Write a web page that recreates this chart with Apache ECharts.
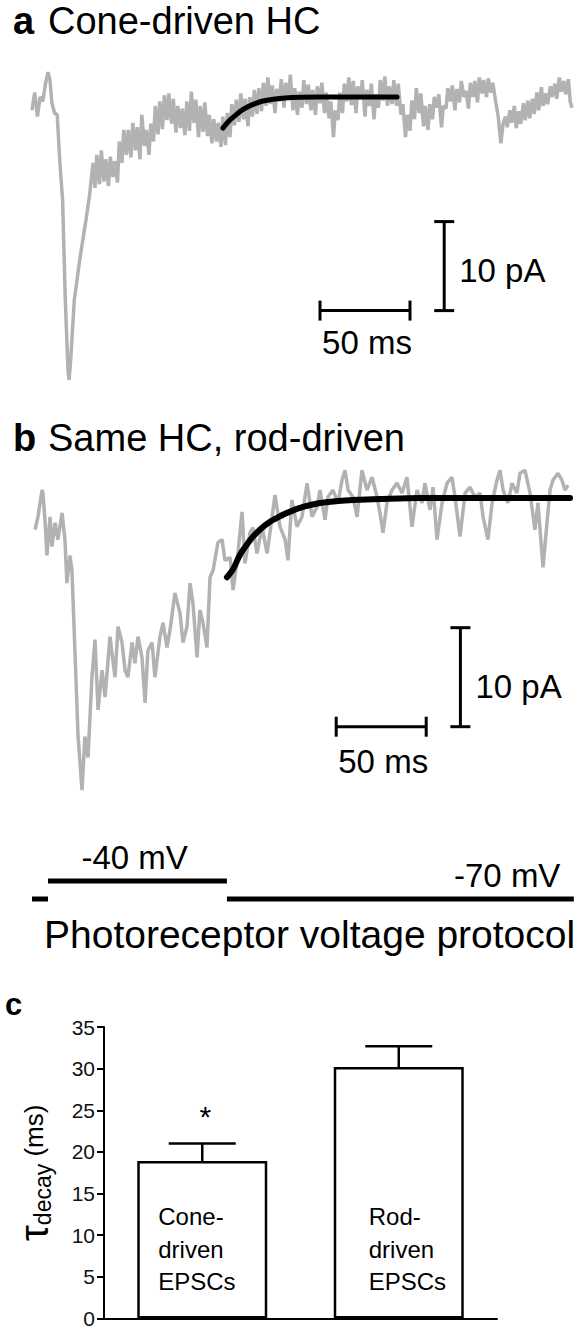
<!DOCTYPE html>
<html><head><meta charset="utf-8">
<script src="https://cdn.jsdelivr.net/npm/echarts@6/dist/echarts.min.js"></script>
<style>html,body{margin:0;padding:0;background:#fff}#chart{width:583px;height:1330px}</style>
</head><body><div id="chart"></div>
<script>
// ===== DATA (time in ms, current in pA, voltage in mV) =====
const traceA = [[0,-1.5],[1.5,0.5],[3,-2.2],[4.5,0],[6,-0.5],[7.5,1.5],[8.9,2.8],[10,1.9],[11,-0.6],[12.5,-1.8],[14,-2.0],
[15.5,-7.4],[17,-11.6],[18.5,-22.8],[20,-30.7],[20.6,-31.8],[21.5,-29.5],[23.5,-22.8],[26.5,-18.3],[30,-13.8],[32,-11],[33.9,-7.4],
[35,-10.2],[36,-6.5],[37.5,-9.8],[38.5,-6.0],[40,-9.5],[41,-7.0],[42.5,-10.0],[43.5,-6.7],[45,-9.0],[46,-7.2],[47.5,-9.6],[48.5,-5.0],
[50,-7.4],[51,-3.7],[52.5,-6.5],[53.5,-3.7],[55,-6.8],[56,-2.9],[57.5,-6.0],[58.5,-3.4],[60,-7.0],[61,-2.0],[62.5,-5.5],[63.5,-3.7],[65,-6.5],[66,-3.0],
[67.5,-5.0],[68.5,-1.0],[70,-4.2],[71,-0.5],[72.5,-3.6],[73.5,0.2],[75,-2.6],[76,0.4],[77.5,-3.0],[78.5,-0.2],[80,-4.0],[81,-1.0],[82.5,-3.5],[83.5,-1.3],[85,-4.3],[86,-0.5],
[87.5,-3.8],[88.5,0.6],[90,-2.9],[91,-0.3],[92.5,-4.5],[93.5,-1.0],[95,-3.9],[96,-0.6],[97.5,-4.4],[98.5,-2.0],[100,-5.2],[101,-2.5],[102.5,-5.0],[103.5,-2.9],
[105,-5.6],[106,-2.2],[107.5,-5.4],[108.5,-1.8],[110,-4.5],
[111,-0.8],[112.5,-3.2],[113.5,-0.3],[115,-2.8],[116,0.4],[117.5,-2.5],[118.5,-0.2],[120,-3.3],[121,0.0],[122.5,-2.2],[123.5,0.8],[125,-1.9],[126,1.0],
[127.5,-1.6],[128.5,1.6],[130,-1.0],[131,2.2],[132.5,-0.8],[133.5,1.3],[135,-1.8],[136,0.9],[137.5,-0.5],[138.5,2.0],[140,-1.2],[141,1.6],[142.5,-0.3],[143.5,2.5],[145,-1.5],[146,1.0],[147.5,-2.0],[148.5,0.6],
[150,-1.2],[151,1.9],[152.5,-0.8],[153.5,1.4],[155,-1.5],[156,0.8],[157.5,-2.0],[158.5,1.2],[160,-0.7],[161,1.6],[162.5,-1.8],[163.5,0.5],[165,-2.4],[166,-0.5],[167.5,-4.5],[168.5,-1.5],
[170,-2.6],[171,0.5],[172.5,-1.8],[173.5,1.5],[175,-0.5],[176,2.2],[177.5,-0.9],[178.5,1.8],[180,-1.8],[181,1.2],[182.5,-0.2],[183.5,1.9],[185,-2.2],[186,0.8],[187.5,-1.0],[188.5,1.5],[190,-2.5],[191,0.3],[192.5,-1.2],[193.5,1.9],[195,-0.4],[196,2.3],[197.5,-1.0],[198.5,1.2],[200,-0.8],[201,1.9],[202.5,-1.0],[203.5,1.5],
[205,-2.0],[206,-0.8],[207.5,-4.5],[208.5,-2.0],[210,-3.8],[211,-0.4],[212.5,-2.5],
[213.5,1.0],[215,-1.8],[216,0.4],[217.5,-3.3],[218.5,-1.0],[220,-3.7],[221,-0.8],[222.5,-2.5],[223.5,0.0],[225,-1.2],[226,0.3],[227.5,-3.4],[228.5,-1.0],
[230,-1.3],[231,1.0],[232.5,-0.5],[233.5,1.3],[235,-1.5],[236,0.9],[237.5,-0.6],[238.5,1.8],[240,0.0],[241,0.7],[242.5,-1.3],[243.5,1.6],[245,0.0],[246,1.8],[247.5,-0.6],[248.5,2.2],[250,0.4],[251,1.9],[252.5,0.0],[253.5,2.1],[255,0.5],[256,1.6],[257.5,-0.4],
[259,-2.2],[260.5,-5.2],[261.7,-3.0],
[263,-2.2],[264,-3.4],[265.5,-1.5],[266.5,-2.9],[268,-1.0],[269,-3.5],[270.5,-1.6],[271.5,-3.0],[273,-0.7],[274,-2.6],[275.5,-0.4],[276.5,-2.4],[278,-0.2],[279,-1.9],[280.5,0.5],[281.5,-1.5],
[283,1.1],[284,-1.0],[285.5,0.4],[286.5,-0.8],[288,1.2],[289,0.0],[290.5,1.5],[291.5,-0.2],[293,2.2],[294,0.6],[295.5,1.8],[296.5,0.3],[298,2.0],[299,-0.5],[300,-1.2]];

const fitA = [[106.1,-3.5],[109.4,-2.7],[112.8,-2.1],[116.1,-1.55],[119.4,-1.15],[123.9,-0.75],[128.3,-0.45],[133.9,-0.25],[140.6,-0.1],[148.9,-0.04],[170,0],[202.8,0]];

const traceB = [[1.7,-3.2],[3.3,-1.9],[5.6,0.8],[6.1,0.5],[7.2,-2.2],[8.3,-5.8],[10,-1.9],[11.1,-4.9],[12.8,-2.5],[14.4,-4.2],[16.7,-1.5],[18.3,-4.2],[19.4,-8.6],[21.1,-5.8],[22.2,-7.3],
[23.9,-15.7],[25.6,-24.1],[27.8,-29.5],[29.4,-24.1],[31.1,-26.2],[33.3,-18.1],[35,-14.3],[36.7,-21.4],[38.9,-17.4],[40.6,-20.1],[43.3,-14.0],[46.1,-18.1],[47.8,-13.0],[50,-14.6],[51.7,-17.4],[53.3,-18.1],
[55.6,-14.6],[57.2,-16.7],[58.9,-14.0],[61.1,-16.1],[62.8,-20.7],[64.4,-15.4],[66.7,-14.6],[68.3,-18.1],[71.1,-14.0],[72.8,-12.6],[75,-15.1],[76.7,-13.3],[79.4,-9.6],[82.2,-11.6],[83.9,-14.6],[86.1,-13.0],
[87.8,-8.6],[89.4,-10.6],[91.7,-16.1],[93.3,-11.3],[95,-12.6],[97.2,-15.1],[98.9,-8.0],[100.6,-7.3],[103.3,-4.5],[105.6,-4.2],[107.2,-6.3],[110,-6.0],[111.7,-9.3],[114.4,-5.6],[116.7,-1.4],[118.3,-6.6],
[121.1,-3.5],[122.8,-3.0],[125,-5.6],[127.8,-2.9],[130.6,-5.6],[132.2,-3.5],[135,0.3],[137.8,-2.9],[140.6,-4.2],[142.2,-6.3],[144.4,-0.2],[147.2,-2.9],[150,-1.9],[152.8,1.5],[155.6,-1.9],[158.3,-0.9],
[160,0.8],[162.8,-2.2],[164.4,0.1],[167.2,0.8],[170,-0.5],[172.2,1.8],[173.9,2.8],[175.6,0.8],[178.3,0.1],[180.6,-1.9],[183.3,2.8],[186.1,0.8],[188.9,2.1],[191.7,0.1],[193.3,-1.5],[195,-3.5],
[197.2,-0.5],[200,0.8],[202.8,1.5],[205.6,0.5],[208.3,2.1],[211.1,-2.9],[213.9,0.8],[216.7,-0.5],[218.3,1.5],[221.1,-1.2],[222.8,1.1],[225,-4.2],[227.8,-0.5],[230.6,1.5],[233.3,2.1],[235,0.1],
[237.8,-3.9],[240.6,0.5],[243.3,1.1],[246.1,0.1],[248.9,0.5],[250.6,-1.9],[253.3,-4.2],[255.6,-0.5],[258.3,1.8],[260,2.8],[261.7,0.8],[264.4,-0.5],[266.7,1.5],[269.4,0.5],[271.1,2.5],[273.9,2.8],
[276.7,0.5],[279.4,-3.2],[281.1,-0.5],[283.9,-7.0],[286.1,-2.5],[287.8,0.8],[289.4,1.8],[292.2,2.5],[294.4,1.8],[296.1,0.8],[297.8,1.3]];

const fitB = [[108.3,-8.0],[111.7,-7.2],[115.6,-5.7],[119.4,-4.7],[122.8,-3.9],[127.2,-3.1],[132.2,-2.4],[137.2,-1.9],[141.7,-1.5],[150.6,-0.9],[160,-0.5],[170,-0.3],[178.3,-0.2],[193.3,-0.1],[215.6,0],[298.9,0]];

const scaleBarA = { time: [160, 210], current: [-24, -14], at: 229, labels: ['50 ms', '10 pA'] };
const scaleBarB = { time: [169, 219], current: [-23.1, -13.1], at: 238, labels: ['50 ms', '10 pA'] };

const protocolSteps = [[0, 8.9, -70], [8.9, 108.3, -40], [108.3, 301, -70]];
const protocolLabels = [[57, -40, '-40 mV'], [264, -70, '-70 mV']];

const categories = ['Cone-\ndriven\nEPSCs', 'Rod-\ndriven\nEPSCs'];
const tauMean = [18.9, 30.2];
const tauSEM = [2.1, 2.5];
const significance = ['*', ''];
const tauTicks = [0, 5, 10, 15, 20, 25, 30, 35];

// ===== CHART =====
const FONT = "'Liberation Sans', Arial, Helvetica, sans-serif";
const INK = '#000';
const GRAY = '#b2b2b2';
const chart = echarts.init(document.getElementById('chart'), null, { renderer: 'svg' });

function scaleBarRender(sb, vLabelDy, hLabelDy) {
  return function (params, api) {
    const h0 = api.coord([sb.time[0], sb.current[0]]);
    const h1 = api.coord([sb.time[1], sb.current[0]]);
    const v0 = api.coord([sb.at, sb.current[0]]);
    const v1 = api.coord([sb.at, sb.current[1]]);
    const ls = { stroke: INK, lineWidth: 3 };
    const c = 10;
    const L = (x1, y1, x2, y2) => ({ type: 'line', shape: { x1, y1, x2, y2 }, style: ls });
    return {
      type: 'group', children: [
        L(h0[0], h0[1], h1[0], h1[1]),
        L(h0[0], h0[1] - c, h0[0], h0[1] + c),
        L(h1[0], h1[1] - c, h1[0], h1[1] + c),
        L(v0[0], v0[1], v1[0], v1[1]),
        L(v0[0] - c, v0[1], v0[0] + c, v0[1]),
        L(v1[0] - c, v1[1], v1[0] + c, v1[1]),
        { type: 'text', x: (h0[0] + h1[0]) / 2 + 2, y: h0[1] + hLabelDy,
          style: { text: sb.labels[0], font: '33px ' + FONT, fill: INK, align: 'center', verticalAlign: 'middle' } },
        { type: 'text', x: v0[0] + 15, y: (v0[1] + v1[1]) / 2 + vLabelDy,
          style: { text: sb.labels[1], font: '33px ' + FONT, fill: INK, align: 'left', verticalAlign: 'middle' } }
      ]
    };
  };
}

const hiddenX = (g) => ({ gridIndex: g, type: 'value', min: 0, max: 300, show: false });
const hiddenY = (g, mn, mx) => ({ gridIndex: g, type: 'value', min: mn, max: mx, show: false });

const option = {
  animation: false,
  backgroundColor: '#fff',
  textStyle: { fontFamily: FONT },
  grid: [
    { left: 32, width: 540, top: 61.4, height: 329.3, outerBoundsMode: 'none' },
    { left: 32, width: 540, top: 458.4, height: 346.5, outerBoundsMode: 'none' },
    { left: 32, width: 540, top: 875, height: 30, outerBoundsMode: 'none' },
    { left: 104, width: 393, top: 1027, height: 291.5, outerBoundsMode: 'none' }
  ],
  xAxis: [
    hiddenX(0), hiddenX(1), hiddenX(2),
    { gridIndex: 3, type: 'category', data: categories,
      axisLine: { show: true, lineStyle: { color: INK, width: 2 } },
      axisTick: { show: false }, axisLabel: { show: false }, splitLine: { show: false } }
  ],
  yAxis: [
    hiddenY(0, -33, 4), hiddenY(1, -31, 4), hiddenY(2, -80, -30),
    { gridIndex: 3, type: 'value', min: 0, max: 35, interval: 5,
      axisLine: { show: true, lineStyle: { color: INK, width: 2 } },
      axisTick: { show: true, length: 7, lineStyle: { color: INK, width: 2 } },
      axisLabel: { fontSize: 21, color: '#111', margin: 9, fontFamily: FONT,
        formatter: (v) => tauTicks.includes(v) ? String(v) : '' },
      splitLine: { show: false },
      name: '{t|τ}{s|decay}{m| (ms)}', nameLocation: 'middle', nameRotate: 90, nameGap: 50,
      nameTextStyle: { color: INK, rich: {
        t: { fontSize: 40, fontFamily: FONT, color: INK },
        s: { fontSize: 23, fontFamily: FONT, color: INK, verticalAlign: 'bottom', lineHeight: 34 },
        m: { fontSize: 26, fontFamily: FONT, color: INK }
      } } }
  ],
  series: [
    { type: 'line', xAxisIndex: 0, yAxisIndex: 0, data: traceA, showSymbol: false, silent: true,
      lineStyle: { color: GRAY, width: 3.5 }, clip: false, z: 1 },
    { type: 'line', xAxisIndex: 0, yAxisIndex: 0, data: fitA, showSymbol: false, silent: true, smooth: 0.3,
      lineStyle: { color: '#000', width: 5, cap: 'round' }, clip: false, z: 2 },
    { type: 'custom', xAxisIndex: 0, yAxisIndex: 0, data: [[scaleBarA.at, scaleBarA.current[0]]],
      renderItem: scaleBarRender(scaleBarA, 4, 32), silent: true, clip: false },

    { type: 'line', xAxisIndex: 1, yAxisIndex: 1, data: traceB, showSymbol: false, silent: true,
      lineStyle: { color: GRAY, width: 3.5 }, clip: false, z: 1 },
    { type: 'line', xAxisIndex: 1, yAxisIndex: 1, data: fitB, showSymbol: false, silent: true, smooth: 0.3,
      lineStyle: { color: '#000', width: 6, cap: 'round' }, clip: false, z: 2 },
    { type: 'custom', xAxisIndex: 1, yAxisIndex: 1, data: [[scaleBarB.at, scaleBarB.current[0]]],
      renderItem: scaleBarRender(scaleBarB, 9, 35), silent: true, clip: false },

    { type: 'custom', xAxisIndex: 2, yAxisIndex: 2, data: protocolSteps, silent: true, clip: false,
      renderItem: (params, api) => {
        const s = api.coord([api.value(0), api.value(2)]);
        const e = api.coord([api.value(1), api.value(2)]);
        return { type: 'line', shape: { x1: s[0], y1: s[1], x2: e[0], y2: e[1] },
          style: { stroke: INK, lineWidth: 5 } };
      } },
    { type: 'scatter', xAxisIndex: 2, yAxisIndex: 2, symbolSize: 0, silent: true, clip: false,
      itemStyle: { opacity: 1 },
      data: protocolLabels.map(d => ({ value: [d[0], d[1]], name: d[2] })),
      label: { show: true, position: 'inside', offset: [0, -24], formatter: (p) => p.name,
        fontSize: 33, color: INK, opacity: 1, fontFamily: FONT } },

    { type: 'bar', xAxisIndex: 3, yAxisIndex: 3, data: tauMean, barWidth: 130, silent: true,
      itemStyle: { color: '#fff', borderColor: INK, borderWidth: 2.5 } },
    { type: 'custom', xAxisIndex: 3, yAxisIndex: 3, silent: true, z: 5,
      data: tauMean.map((m, i) => [i, m, tauSEM[i]]),
      renderItem: (params, api) => {
        const i = api.value(0);
        const b = api.coord([i, api.value(1)]);
        const t = api.coord([i, api.value(1) + api.value(2)]);
        const half = 33.5;
        const st = { stroke: INK, lineWidth: 2.5 };
        const ch = [
          { type: 'line', shape: { x1: b[0], y1: b[1], x2: t[0], y2: t[1] }, style: st },
          { type: 'line', shape: { x1: t[0] - half, y1: t[1], x2: t[0] + half, y2: t[1] }, style: st }
        ];
        if (significance[params.dataIndex]) {
          ch.push({ type: 'text', x: t[0] + 3, y: t[1] - 27,
            style: { text: significance[params.dataIndex], font: '30px ' + FONT, fill: INK, align: 'center', verticalAlign: 'middle' } });
        }
        return { type: 'group', children: ch };
      } },
    { type: 'scatter', xAxisIndex: 3, yAxisIndex: 3, symbolSize: 0, silent: true, z: 6,
      itemStyle: { opacity: 1 },
      data: categories.map((c, i) => ({ value: [i, 8.3], name: c,
        label: { offset: [i === 0 ? -44 : -30, 0] } })),
      label: { show: true, position: 'inside', align: 'left', verticalAlign: 'middle', opacity: 1,
        formatter: (p) => p.name, fontSize: 24, lineHeight: 32.5, color: INK, fontFamily: FONT } }
  ],
  graphic: [
    { type: 'text', x: 13, y: 21, silent: true, style: { text: 'a', font: 'bold 38px ' + FONT, fill: '#000', verticalAlign: 'middle' } },
    { type: 'text', x: 48, y: 21, silent: true, style: { text: 'Cone-driven HC', font: '38px ' + FONT, fill: '#000', verticalAlign: 'middle' } },
    { type: 'text', x: 13, y: 438, silent: true, style: { text: 'b', font: 'bold 38px ' + FONT, fill: '#000', verticalAlign: 'middle' } },
    { type: 'text', x: 48, y: 438, silent: true, style: { text: 'Same HC, rod-driven', font: '38px ' + FONT, fill: '#000', verticalAlign: 'middle' } },
    { type: 'text', x: 44, y: 934, silent: true, style: { text: 'Photoreceptor voltage protocol', font: '39px ' + FONT, fill: '#000', verticalAlign: 'middle' } },
    { type: 'text', x: 5, y: 1004, silent: true, style: { text: 'c', font: 'bold 31px ' + FONT, fill: '#000', verticalAlign: 'middle' } }
  ]
};
chart.setOption(option);
</script>
</body></html>
